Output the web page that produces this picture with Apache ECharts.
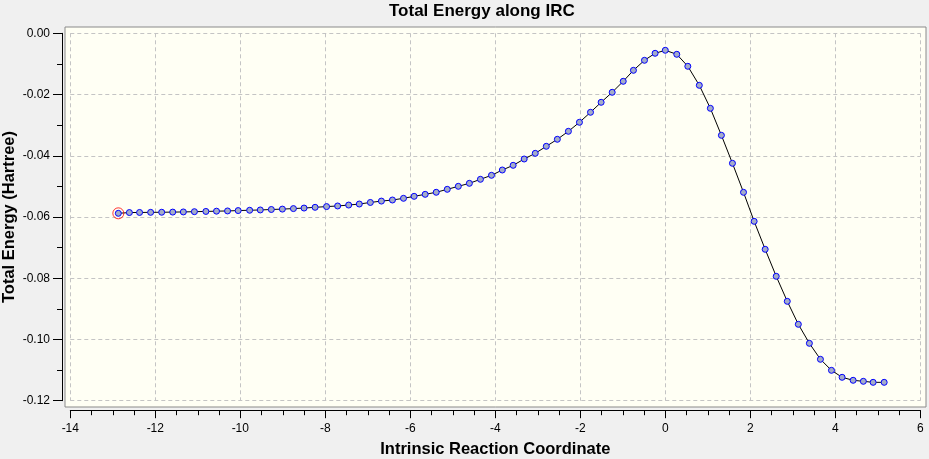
<!DOCTYPE html>
<html>
<head>
<meta charset="utf-8">
<title>Total Energy along IRC</title>
<script src="https://cdn.jsdelivr.net/npm/echarts@6/dist/echarts.min.js"></script>
<style>
  html, body { margin: 0; padding: 0; background: #f0f0f0; }
  #main { width: 929px; height: 459px; }
</style>
</head>
<body>
<div id="main"></div>
<script>
// IRC coordinate of each point
var ircCoord = [-12.87, -12.61, -12.37, -12.11, -11.85, -11.59, -11.34, -11.08, -10.81, -10.56,
  -10.30, -10.05, -9.78, -9.53, -9.27, -9.01, -8.75, -8.50, -8.24, -7.97,
  -7.71, -7.45, -7.20, -6.94, -6.68, -6.42, -6.16, -5.91, -5.65, -5.39,
  -5.13, -4.87, -4.61, -4.35, -4.09, -3.835, -3.58, -3.32, -3.06, -2.80,
  -2.54, -2.28, -2.02, -1.76, -1.51, -1.25, -0.99, -0.75, -0.49, -0.24,
  0.00, 0.27, 0.53, 0.80, 1.06, 1.32, 1.58, 1.84, 2.09, 2.35,
  2.61, 2.87, 3.13, 3.39, 3.65, 3.91, 4.16, 4.42, 4.66, 4.89, 5.15]
// total energy (Hartree)
var energy = [-0.05880, -0.05855, -0.05852, -0.05848, -0.05845, -0.05840, -0.05835, -0.05826, -0.05818, -0.05810,
  -0.05802, -0.05790, -0.05780, -0.05770, -0.05755, -0.05742, -0.05725, -0.05708, -0.05684, -0.05660,
  -0.05640, -0.05610, -0.05576, -0.05525, -0.05480, -0.05445, -0.05390, -0.05325, -0.05260, -0.05193,
  -0.05096, -0.04998, -0.04900, -0.04769, -0.04638, -0.04465, -0.04312, -0.04106, -0.03920, -0.03691,
  -0.03462, -0.03201, -0.02907, -0.02580, -0.02254, -0.01927, -0.01568, -0.01209, -0.00882, -0.00653,
  -0.00555, -0.00686, -0.01078, -0.01699, -0.02450, -0.03332, -0.04246, -0.05194, -0.06141, -0.07055,
  -0.07937, -0.08754, -0.09505, -0.10126, -0.10648, -0.11008, -0.11236, -0.11334, -0.11367, -0.11400, -0.11400]
var xRange = [-14, 6]
var yRange = [-0.12, 0]

var chart = echarts.init(document.getElementById('main'))
var font = 'Liberation Sans, Arial, sans-serif'

var points = []
for (var i = 0; i < ircCoord.length; i++) points.push([ircCoord[i], energy[i]])

option = {
  backgroundColor: '#f0f0f0',
  animation: false,
  textStyle: { fontFamily: font },
  title: {
    text: 'Total Energy along IRC',
    left: 389,
    top: 3,
    padding: 0,
    textStyle: { fontSize: 17, fontWeight: 'bold', color: '#000', fontFamily: font }
  },
  grid: [
    // the framed plot box
    { left: 65, right: 3, top: 27, bottom: 52, show: true, outerBoundsMode: 'none', containLabel: false,
      backgroundColor: '#fffff4', borderColor: '#8a8a8a', borderWidth: 1 },
    // the data area
    { left: 70.3, right: 8.7, top: 33.3, bottom: 58.3, outerBoundsMode: 'none', containLabel: false }
  ],
  xAxis: [
    { gridIndex: 0, type: 'value', show: false, min: 0, max: 1 },
    {
      gridIndex: 1, type: 'value', min: xRange[0], max: xRange[1], interval: 2,
      offset: 9.5,
      name: 'Intrinsic Reaction Coordinate', nameLocation: 'middle', nameGap: 31,
      nameTextStyle: { fontSize: 16.5, fontWeight: 'bold', color: '#000', fontFamily: font },
      axisLine: { show: true, onZero: false, lineStyle: { color: '#000', width: 1 } },
      axisTick: { show: true, inside: false, length: 8, lineStyle: { color: '#000' } },
      minorTick: { show: true, splitNumber: 4, length: 5, lineStyle: { color: '#000' } },
      axisLabel: { fontSize: 12, color: '#000', margin: 12 },
      splitLine: { show: true, lineStyle: { color: '#c4c4c4', type: [4, 3], width: 1 } }
    }
  ],
  yAxis: [
    { gridIndex: 0, type: 'value', show: false, min: 0, max: 1 },
    {
      gridIndex: 1, type: 'value', min: yRange[0], max: yRange[1], interval: 0.02,
      offset: 8.3,
      name: 'Total Energy (Hartree)', nameLocation: 'middle', nameGap: 44, nameMoveOverlap: false,
      nameTextStyle: { fontSize: 16.5, fontWeight: 'bold', color: '#000', fontFamily: font },
      axisLine: { show: true, onZero: false, lineStyle: { color: '#000', width: 1 } },
      axisTick: { show: true, inside: false, length: 9, lineStyle: { color: '#000' } },
      minorTick: { show: true, splitNumber: 2, length: 5, lineStyle: { color: '#000' } },
      axisLabel: {
        fontSize: 12, color: '#000', margin: 12,
        formatter: function (v) { return v.toFixed(2) }
      },
      splitLine: { show: true, lineStyle: { color: '#c4c4c4', type: [4, 3], width: 1 } }
    }
  ],
  series: [
    {
      type: 'line',
      xAxisIndex: 1, yAxisIndex: 1,
      data: points,
      showAllSymbol: true,
      symbol: 'circle',
      symbolSize: 6,
      lineStyle: { color: '#000', width: 1 },
      itemStyle: { color: '#a4acc8', borderColor: '#0000ff', borderWidth: 1 },
      z: 3
    },
    {
      // red ring on the current point
      type: 'scatter',
      xAxisIndex: 1, yAxisIndex: 1,
      data: [points[0]],
      symbol: 'circle',
      symbolSize: 11,
      itemStyle: { color: 'rgba(0,0,0,0)', borderColor: '#ff0000', borderWidth: 1 },
      z: 4
    }
  ]
}
chart.setOption(option)
</script>
</body>
</html>
